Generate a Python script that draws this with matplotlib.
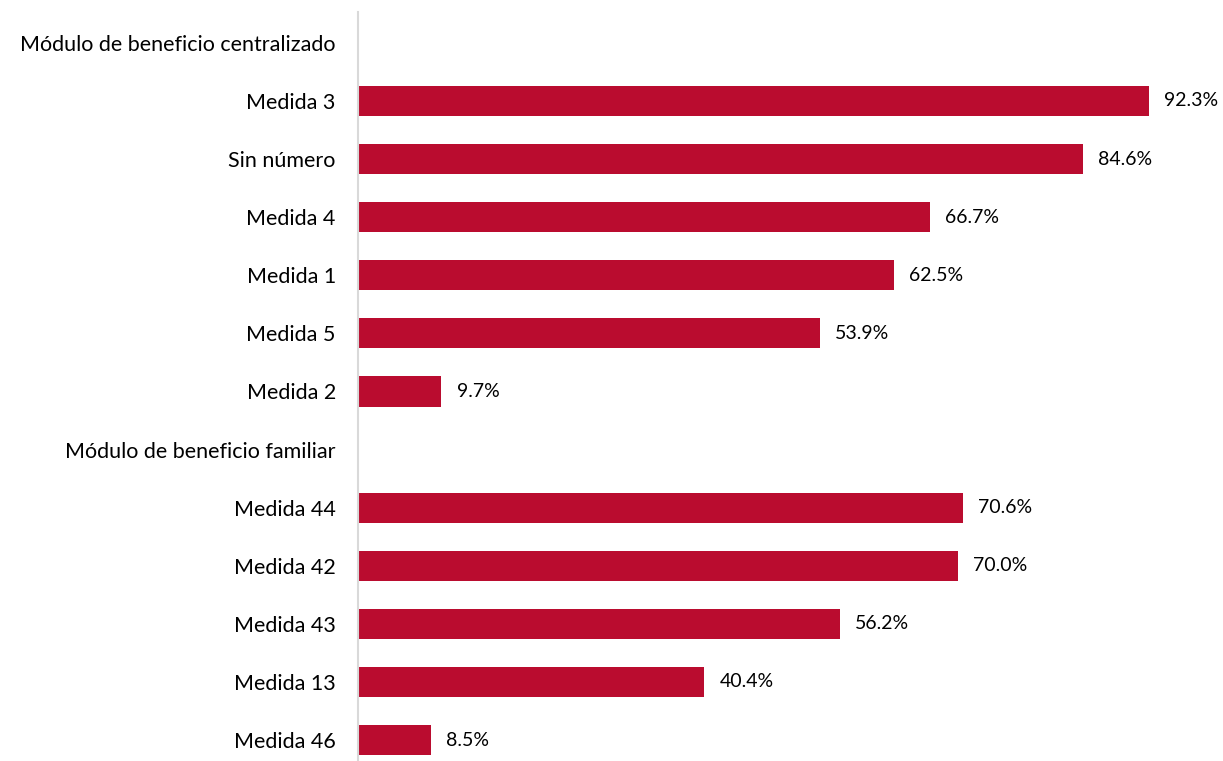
import matplotlib
matplotlib.use("Agg")
import matplotlib.pyplot as plt

plt.rcParams['font.family'] = ['Lato', 'DejaVu Sans']

# rows top to bottom; None marks a section header without a bar
labels = ["Módulo de beneficio centralizado",
          "Medida 3", "Sin número", "Medida 4", "Medida 1", "Medida 5", "Medida 2",
          "Módulo de beneficio familiar",
          "Medida 44", "Medida 42", "Medida 43", "Medida 13", "Medida 46"]
values = [None, 92.3, 84.6, 66.7, 62.5, 53.9, 9.7,
          None, 70.6, 70.0, 56.2, 40.4, 8.5]

bar_color = "#BA0C2F"

fig = plt.figure(figsize=(12.23, 7.61), dpi=100)
ax = fig.add_axes([358/1223, 0, (1215-358)/1223, 1 - 12/761])

for i, v in enumerate(values):
    if v is None:
        continue
    ax.barh(i, v, height=0.52, color=bar_color)
    ax.text(v + 1.8, i, f"{v:.1f}%", va="center", ha="left", fontsize=14, color="black")

ax.set_yticks(range(len(labels)))
ax.set_yticklabels(labels, fontsize=15.5)
ax.tick_params(axis="y", length=0, pad=16)
ax.set_xticks([])
ax.set_xlim(0, 100)
ax.set_ylim(12.36, -0.53)

for s in ["top", "right", "bottom"]:
    ax.spines[s].set_visible(False)
ax.spines["left"].set_color("#d9d9d9")
ax.spines["left"].set_linewidth(1.5)

fig.savefig("out.png", dpi=100)
